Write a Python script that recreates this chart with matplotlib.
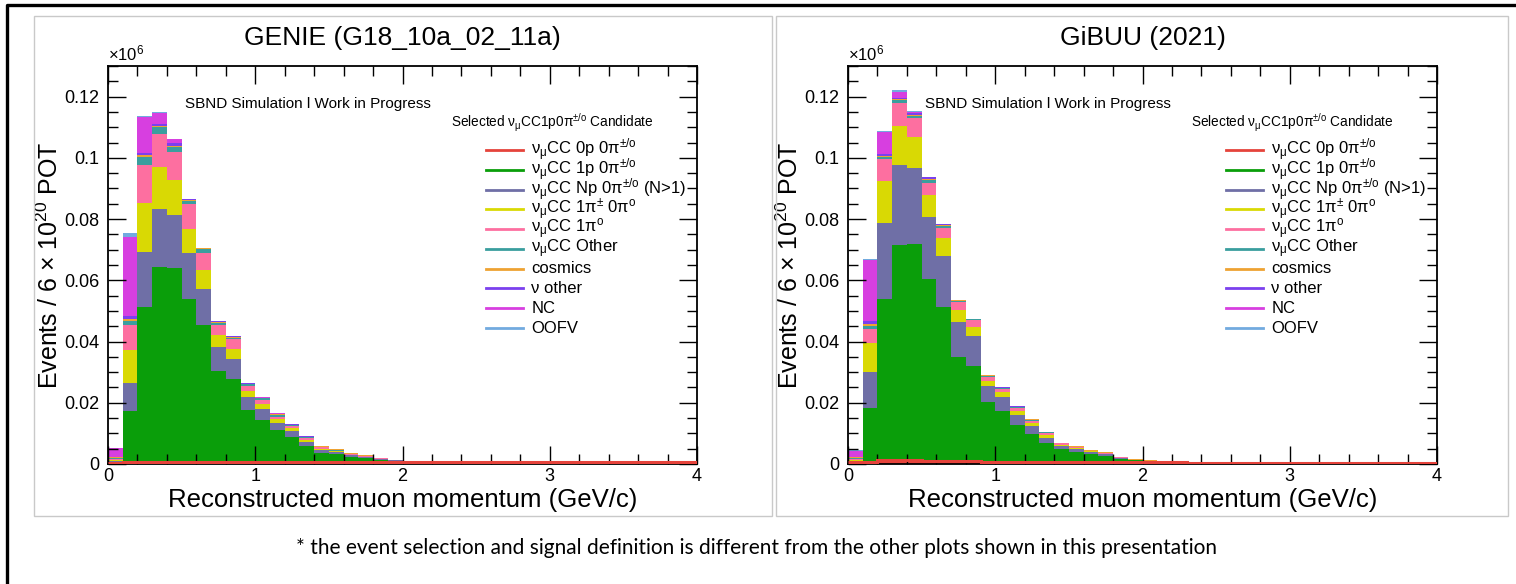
import numpy as np
import matplotlib
matplotlib.use("Agg")
import matplotlib.pyplot as plt
from matplotlib.lines import Line2D
from matplotlib.patches import Rectangle
from matplotlib.ticker import MultipleLocator, FixedLocator

plt.rcParams["font.family"] = ["Liberation Sans", "DejaVu Sans"]
plt.rcParams["mathtext.fontset"] = "custom"
plt.rcParams["mathtext.rm"] = "Liberation Sans"
plt.rcParams["mathtext.it"] = "Liberation Sans:italic"
plt.rcParams["mathtext.bf"] = "Liberation Sans:bold"

# ---------------------------------------------------------------- data
bin_edges = np.round(np.arange(0.0, 4.0001, 0.1), 2)   # 40 bins, GeV/c

categories = [
    r"ν$_{\mathrm{μ}}$CC 0p 0π$^{\mathrm{\pm/o}}$",
    r"ν$_{\mathrm{μ}}$CC 1p 0π$^{\mathrm{\pm/o}}$",
    r"ν$_{\mathrm{μ}}$CC Np 0π$^{\mathrm{\pm/o}}$ (N>1)",
    r"ν$_{\mathrm{μ}}$CC 1π$^{\mathrm{\pm}}$ 0π$^{\mathrm{o}}$",
    r"ν$_{\mathrm{μ}}$CC 1π$^{\mathrm{o}}$",
    r"ν$_{\mathrm{μ}}$CC Other",
    "cosmics",
    "ν other",
    "NC",
    "OOFV",
]
colors = ["#e5433b", "#0a9e0a", "#6f6fa6", "#d9d904", "#fd6fa0",
          "#3a9e9e", "#eea232", "#7b40ee", "#d73fe0", "#72aadf"]

# Events per bin (x 1e6), one list per category, GENIE G18_10a_02_11a
genie_0p = [0.0004, 0.0008, 0.0008, 0.0008, 0.0008, 0.0008, 0.0007, 0.0007, 0.0007, 0.0007,
            0.0007, 0.0007, 0.0007, 0.0007, 0.0007, 0.0007, 0.0007, 0.0007, 0.0007, 0.0007,
            0.0006, 0.0006, 0.0006, 0.0005, 0.0005, 0.0005, 0.0005, 0.0005, 0.0005, 0.0005,
            0.0005, 0.0005, 0.0005, 0.0005, 0.0005, 0.0005, 0.0005, 0.0005, 0.0005, 0.0005]
genie_1p = [0.0003, 0.0166, 0.0505, 0.0636, 0.0631, 0.0532, 0.0446, 0.0298, 0.0271, 0.0169,
            0.0138, 0.0105, 0.0082, 0.0052, 0.0029, 0.0025, 0.0017, 0.0013, 0.0007, 0.0004,
            0.0002, 0.0001, 0.0001, 0, 0, 0, 0, 0, 0, 0,
            0, 0, 0, 0, 0, 0, 0, 0, 0, 0]
genie_np = [0.0002, 0.0091, 0.0180, 0.0189, 0.0174, 0.0148, 0.0120, 0.0077, 0.0065, 0.0042,
            0.0034, 0.0022, 0.0019, 0.0013, 0.0009, 0.0006, 0.0005, 0.0003, 0.0002, 0.0001,
            0.0001, 0, 0, 0, 0, 0, 0, 0, 0, 0,
            0, 0, 0, 0, 0, 0, 0, 0, 0, 0]
genie_1pic = [0.0004, 0.0106, 0.0161, 0.0136, 0.0115, 0.0080, 0.0060, 0.0038, 0.0033, 0.0019,
              0.0017, 0.0013, 0.0008, 0.0006, 0.0004, 0.0003, 0.0002, 0.0001, 0.0001, 0,
              0, 0, 0, 0, 0, 0, 0, 0, 0, 0,
              0, 0, 0, 0, 0, 0, 0, 0, 0, 0]
genie_1pi0 = [0.0003, 0.0084, 0.0124, 0.0110, 0.0092, 0.0082, 0.0057, 0.0035, 0.0031, 0.0019,
              0.0014, 0.0008, 0.0008, 0.0006, 0.0005, 0.0003, 0.0002, 0.0002, 0.0001, 0.0001,
              0, 0, 0, 0, 0, 0, 0, 0, 0, 0,
              0, 0, 0, 0, 0, 0, 0, 0, 0, 0]
genie_other = [0.0002, 0.0011, 0.0026, 0.0021, 0.0015, 0.0010, 0.0012, 0.0006, 0.0005, 0.0004,
               0.0004, 0.0005, 0.0003, 0.0003, 0.0002, 0.0001, 0.0001, 0, 0, 0,
               0, 0, 0, 0, 0, 0, 0, 0, 0, 0,
               0, 0, 0, 0, 0, 0, 0, 0, 0, 0]
genie_cosmics = [0.0004, 0.0006, 0.0004, 0.0004, 0.0004, 0.0002, 0.0002, 0.0003, 0.0003, 0.0002,
                 0.0002, 0.0003, 0.0002, 0.0002, 0.0002, 0.0003, 0.0003, 0.0002, 0.0001, 0,
                 0.0001, 0, 0, 0, 0, 0, 0, 0, 0, 0,
                 0, 0, 0, 0, 0, 0, 0, 0, 0, 0]
genie_nuother = [0.0001, 0.0012, 0.0008, 0.0005, 0.0008, 0.0002, 0.0002, 0.0002, 0.0002, 0.0001,
                 0.0001, 0.0001, 0.0001, 0.0001, 0.0001, 0, 0, 0, 0, 0,
                 0, 0, 0, 0, 0, 0, 0, 0, 0, 0,
                 0, 0, 0, 0, 0, 0, 0, 0, 0, 0]
genie_nc = [0.0028, 0.0258, 0.0118, 0.0036, 0.0013, 0.0001, 0.0001, 0.0001, 0.0001, 0.0001,
            0.0001, 0.0001, 0, 0, 0, 0, 0, 0, 0, 0,
            0, 0, 0, 0, 0, 0, 0, 0, 0, 0,
            0, 0, 0, 0, 0, 0, 0, 0, 0, 0]
genie_oofv = [0.0002, 0.0011, 0.0003, 0.0005, 0.0003, 0.0001, 0, 0, 0, 0,
              0, 0, 0, 0, 0, 0, 0, 0, 0, 0,
              0, 0, 0, 0, 0, 0, 0, 0, 0, 0,
              0, 0, 0, 0, 0, 0, 0, 0, 0, 0]

# Events per bin (x 1e6), one list per category, GiBUU 2021
gibuu_0p = [0.0005, 0.0008, 0.0012, 0.0014, 0.0012, 0.0010, 0.0010, 0.0009, 0.0009, 0.0008,
            0.0008, 0.0008, 0.0008, 0.0008, 0.0007, 0.0007, 0.0007, 0.0007, 0.0006, 0.0006,
            0.0006, 0.0005, 0.0005, 0.0004, 0.0004, 0.0004, 0.0004, 0.0004, 0.0004, 0.0004,
            0.0004, 0.0004, 0.0004, 0.0004, 0.0004, 0.0004, 0.0004, 0.0004, 0.0004, 0.0004]
gibuu_1p = [0.0003, 0.0174, 0.0528, 0.0701, 0.0706, 0.0593, 0.0503, 0.0340, 0.0312, 0.0193,
            0.0164, 0.0120, 0.0091, 0.0062, 0.0041, 0.0033, 0.0027, 0.0019, 0.0011, 0.0006,
            0.0004, 0.0002, 0.0001, 0, 0, 0, 0, 0, 0, 0,
            0, 0, 0, 0, 0, 0, 0, 0, 0, 0]
gibuu_np = [0.0002, 0.0118, 0.0246, 0.0262, 0.0249, 0.0203, 0.0166, 0.0115, 0.0096, 0.0055,
            0.0046, 0.0032, 0.0026, 0.0016, 0.0010, 0.0008, 0.0006, 0.0006, 0.0003, 0.0002,
            0.0001, 0, 0, 0, 0, 0, 0, 0, 0, 0,
            0, 0, 0, 0, 0, 0, 0, 0, 0, 0]
gibuu_1pic = [0.0004, 0.0096, 0.0137, 0.0128, 0.0101, 0.0073, 0.0060, 0.0038, 0.0030, 0.0016,
              0.0016, 0.0014, 0.0008, 0.0009, 0.0004, 0.0004, 0.0002, 0.0002, 0.0001, 0,
              0, 0, 0, 0, 0, 0, 0, 0, 0, 0,
              0, 0, 0, 0, 0, 0, 0, 0, 0, 0]
gibuu_1pi0 = [0.0003, 0.0046, 0.0072, 0.0075, 0.0062, 0.0040, 0.0031, 0.0027, 0.0022, 0.0013,
              0.0011, 0.0009, 0.0008, 0.0006, 0.0005, 0.0003, 0.0002, 0.0002, 0.0001, 0,
              0, 0, 0, 0, 0, 0, 0, 0, 0, 0,
              0, 0, 0, 0, 0, 0, 0, 0, 0, 0]
gibuu_other = [0.0002, 0.0010, 0.0007, 0.0008, 0.0008, 0.0008, 0.0007, 0.0004, 0.0003, 0.0003,
               0.0002, 0.0002, 0.0002, 0.0002, 0.0001, 0.0001, 0, 0, 0, 0,
               0, 0, 0, 0, 0, 0, 0, 0, 0, 0,
               0, 0, 0, 0, 0, 0, 0, 0, 0, 0]
gibuu_cosmics = [0.0004, 0.0005, 0.0003, 0.0004, 0.0003, 0.0003, 0.0003, 0.0002, 0.0002, 0.0003,
                 0.0002, 0.0002, 0.0003, 0.0002, 0.0002, 0.0002, 0.0002, 0.0003, 0.0001, 0.0001,
                 0.0001, 0.0001, 0, 0, 0, 0, 0, 0, 0, 0,
                 0, 0, 0, 0, 0, 0, 0, 0, 0, 0]
gibuu_nuother = [0.0001, 0.0010, 0.0007, 0.0005, 0.0006, 0.0006, 0.0003, 0.0001, 0.0001, 0.0001,
                 0.0001, 0.0001, 0.0001, 0.0001, 0, 0, 0, 0, 0, 0,
                 0, 0, 0, 0, 0, 0, 0, 0, 0, 0,
                 0, 0, 0, 0, 0, 0, 0, 0, 0, 0]
gibuu_nc = [0.0019, 0.0199, 0.0073, 0.0019, 0.0004, 0.0003, 0.0001, 0.0001, 0, 0,
            0, 0, 0, 0, 0, 0, 0, 0, 0, 0,
            0, 0, 0, 0, 0, 0, 0, 0, 0, 0,
            0, 0, 0, 0, 0, 0, 0, 0, 0, 0]
gibuu_oofv = [0.0002, 0.0005, 0.0003, 0.0005, 0.0001, 0, 0, 0, 0, 0,
              0, 0, 0, 0, 0, 0, 0, 0, 0, 0,
              0, 0, 0, 0, 0, 0, 0, 0, 0, 0,
              0, 0, 0, 0, 0, 0, 0, 0, 0, 0]

genie_stack = [genie_0p, genie_1p, genie_np, genie_1pic, genie_1pi0,
               genie_other, genie_cosmics, genie_nuother, genie_nc, genie_oofv]
gibuu_stack = [gibuu_0p, gibuu_1p, gibuu_np, gibuu_1pic, gibuu_1pi0,
               gibuu_other, gibuu_cosmics, gibuu_nuother, gibuu_nc, gibuu_oofv]

titles = ["GENIE (G18_10a_02_11a)", "GiBUU (2021)"]
y_ticks = [0, 0.02, 0.04, 0.06, 0.08, 0.1, 0.12]
y_tick_labels = ["0", "0.02", "0.04", "0.06", "0.08", "0.1", "0.12"]
x_ticks = [0, 1, 2, 3, 4]
x_tick_labels = ["0", "1", "2", "3", "4"]

# ---------------------------------------------------------------- figure
W, H = 1516, 584
fig = plt.figure(figsize=(W / 100, H / 100), dpi=100)
fig.patch.set_facecolor("white")


def fx(px):
    return px / W


def fy(py):
    return 1 - py / H


# outer slide frame (left and top edges)
fig.add_artist(Line2D([fx(7), fx(7), 1.0], [0.0, fy(5), fy(5)],
                      color="black", lw=2.4, transform=fig.transFigure))

# light panel frames
for x0, x1 in [(34, 772), (776, 1508)]:
    fig.add_artist(Rectangle((fx(x0), fy(516)), fx(x1 - x0), (516 - 16) / H,
                             transform=fig.transFigure, fill=False,
                             edgecolor="#c9c9c9", lw=1.0))

ax_bottom_px, ax_top_px = 464, 66
ax_w = 589
ax_h = ax_bottom_px - ax_top_px
axes_left_px = [108, 848]


def draw_panel(ax, stack, title):
    base = np.zeros(len(bin_edges) - 1)
    for vals, col in zip(stack, colors):
        vals = np.asarray(vals, dtype=float)
        ax.stairs(base + vals, bin_edges, baseline=base, fill=True,
                  color=col, lw=0, zorder=1)
        base = base + vals
    # 0p outline along the whole axis
    ax.stairs(np.asarray(stack[0], dtype=float), bin_edges, baseline=None,
              color=colors[0], lw=2.2, zorder=3)

    ax.set_xlim(0, 4)
    ax.set_ylim(0, 0.13)
    ax.xaxis.set_major_locator(FixedLocator(x_ticks))
    ax.set_xticklabels(x_tick_labels)
    ax.xaxis.set_minor_locator(MultipleLocator(0.2))
    ax.yaxis.set_major_locator(FixedLocator(y_ticks))
    ax.set_yticklabels(y_tick_labels)
    ax.yaxis.set_minor_locator(MultipleLocator(0.005))
    ax.tick_params(which="both", direction="in", top=True, right=True,
                   labelsize=13, width=1.0, color="black")
    ax.tick_params(which="major", length=13)
    ax.tick_params(axis="y", which="major", pad=6)
    ax.tick_params(axis="x", which="major", pad=3)
    ax.tick_params(which="minor", length=7)
    for s in ax.spines.values():
        s.set_linewidth(1.3)

    ax.set_xlabel("Reconstructed muon momentum (GeV/c)", fontsize=18.5,
                  va="center")
    ax.xaxis.set_label_coords(0.5, (ax_bottom_px - 500) / ax_h)
    ax.set_ylabel(r"Events / 6 $\times$ 10$^{20}$ POT", fontsize=18,
                  va="center")
    ax.yaxis.set_label_coords(-0.098, 0.5)

    ax.text(0.5, 1.07, title, transform=ax.transAxes, ha="center",
            va="center", fontsize=19)
    ax.text(0.0, 1.006, r"$\times$10$^{6}$", transform=ax.transAxes,
            ha="left", va="bottom", fontsize=12)
    ax.text(0.13, 0.905, "SBND Simulation l Work in Progress",
            transform=ax.transAxes, ha="left", va="center", fontsize=11)
    ax.text(0.582, 0.857,
            r"Selected ν$_{\mathrm{μ}}$CC1p0π$^{\mathrm{\pm/o}}$ Candidate",
            transform=ax.transAxes, ha="left", va="center", fontsize=9.8)

    # legend entries
    y0, dy = 0.789, 0.0497
    for i, (lab, col) in enumerate(zip(categories, colors)):
        yy = y0 - i * dy
        ax.add_line(Line2D([0.642, 0.705], [yy, yy], color=col, lw=2.0,
                           transform=ax.transAxes, zorder=4))
        ax.text(0.719, yy, lab, transform=ax.transAxes, ha="left",
                va="center", fontsize=12, zorder=4)


for left_px, stack, title in zip(axes_left_px, [genie_stack, gibuu_stack], titles):
    ax = fig.add_axes([fx(left_px), (H - ax_bottom_px) / H,
                       ax_w / W, ax_h / H])
    draw_panel(ax, stack, title)

fig.text(fx(757), fy(548),
         "* the event selection and signal definition is different from "
         "the other plots shown in this presentation",
         ha="center", va="center", fontsize=15, family=["Lato", "DejaVu Sans"])

fig.savefig("out.png", dpi=100)
